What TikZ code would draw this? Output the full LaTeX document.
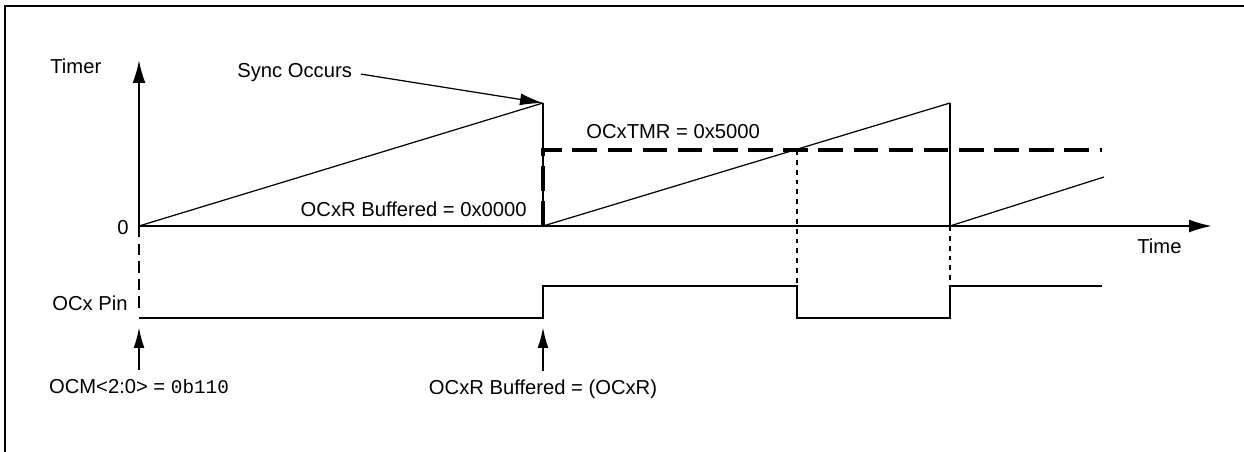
\documentclass[tikz,border=0pt]{standalone}
\usepackage{fontspec}
\setmainfont{Liberation Sans}
\setmonofont{Liberation Mono}
\usetikzlibrary{arrows.meta}

\begin{document}
\begin{tikzpicture}[
  x=0.02cm, y=-0.02cm,
  lbl/.style={font=\fontsize{11.5}{13}\selectfont, text height=8.5pt, text depth=2.5pt, inner sep=0pt},
  axisline/.style={line width=1.3pt},
  axisarr/.style={axisline, -{Latex[length=0.46cm,width=0.26cm]}},
  ramp/.style={line width=0.7pt},
  drop/.style={line width=1.3pt},
  pinline/.style={line width=1.3pt},
  syncarr/.style={line width=0.7pt, -{Latex[length=0.46cm,width=0.24cm]}},
  uparr/.style={line width=1.3pt, -{Latex[length=0.42cm,width=0.22cm]}},
  lvldash/.style={line width=1.9pt, dash pattern=on 14pt off 6pt},
  zerodash/.style={line width=1.5pt, dash pattern=on 7pt off 3.5pt},
  startdash/.style={line width=1.3pt, dash pattern=on 6.5pt off 3.5pt},
  finedash/.style={line width=0.9pt, dash pattern=on 2.8pt off 2.8pt},
]
\useasboundingbox (0,0) rectangle (1244,452);

% frame (only top and left edges show)
\draw[line width=1.3pt] (5,452) -- (5,6) -- (1244,6);

% key points
\coordinate (O)     at (139,226);
\coordinate (ytop)  at (139,60);
\coordinate (xend)  at (1212,226);
\coordinate (p1)    at (543,103);
\coordinate (r1)    at (543,226);
\coordinate (p2)    at (950,103);
\coordinate (r2)    at (950,226);
\coordinate (p3)    at (1104,177);
\coordinate (lvlA)  at (543,150);
\coordinate (cmp)   at (797,150);
\coordinate (lvlB)  at (1102,150);
\coordinate (pinA)  at (139,318);
\coordinate (pinB)  at (543,318);
\coordinate (pinC)  at (543,286);
\coordinate (pinD)  at (797,286);
\coordinate (pinE)  at (797,318);
\coordinate (pinF)  at (950,318);
\coordinate (pinG)  at (950,286);
\coordinate (pinH)  at (1102,286);
\coordinate (pinS)  at (139,312);
\coordinate (ocmtip) at (139,327);
\coordinate (buftip) at (543,327);

% axes
\draw[axisarr] (O) -- (ytop);
\draw[axisarr] (O) -- (xend);

% timer ramps
\draw[ramp] (O) -- (p1);
\draw[drop] (p1) -- (r1);
\draw[ramp] (r1) -- (p2);
\draw[drop] (p2) -- (r2);
\draw[ramp] (r2) -- (p3);

% compare values
\draw[zerodash] (O) -- (r1);
\draw[lvldash] (r1) -- (lvlA) -- (lvlB);

% output pin
\draw[pinline] (pinA) -- (pinB) -- (pinC) -- (pinD) -- (pinE) -- (pinF) -- (pinG) -- (pinH);

% guide lines
\draw[startdash] (O) -- (pinS);
\foreach \src/\dst in {cmp/pinD, r2/pinG}{
  \draw[finedash] (\src) -- (\dst);
}

% labels
\node[lbl, anchor=base west] (timer) at (50,74)  {Timer};
\node[lbl, anchor=base east] (zero)  at (129,235) {0};
\node[lbl, anchor=base west] (time)  at (1137,254) {Time};
\node[lbl, anchor=base east] (ocxpin) at (128,311) {OCx Pin};
\node[lbl, anchor=base west] (sync)  at (237,78) {Sync Occurs};
\node[lbl, anchor=base east] (bufzero) at (527,217) {OCxR Buffered = 0x0000};
\node[lbl, anchor=base west] (tmrval) at (586,139) {OCxTMR = 0x5000};
\node[lbl, anchor=base] (ocm) at (139,394) {OCM<2:0> = {\ttfamily\fontsize{11}{13}\selectfont 0b110}};
\node[lbl, anchor=base] (bufset) at (543,395) {OCxR Buffered = (OCxR)};

\draw[syncarr, shorten <=5pt] (sync.east) -- (p1);
\draw[uparr, shorten <=5pt] (ocm.north) -- (ocmtip);
\draw[uparr, shorten <=5pt] (bufset.north) -- (buftip);

\end{tikzpicture}
\end{document}
